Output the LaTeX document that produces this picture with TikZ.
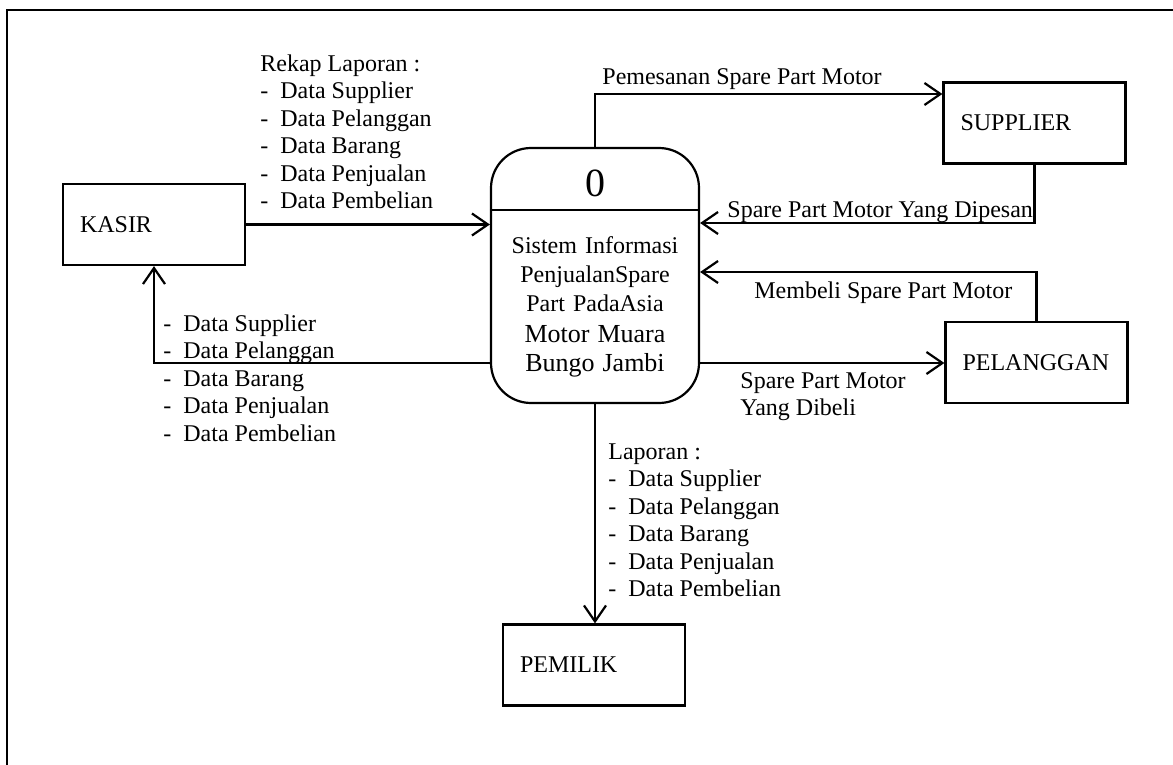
\documentclass[tikz,border=0pt]{standalone}
\usepackage{fontspec}
\setmainfont{Liberation Serif}
\usetikzlibrary{arrows.meta}
\usetikzlibrary{positioning}
\tikzset{entity/.style = {draw, line width=1.1pt, minimum height=40.5pt, text width=74pt, inner xsep=8.5pt, align=left, font=\fontsize{12}{14}\selectfont}}
\tikzset{proses/.style = {draw, line width=1.1pt, rounded corners=20pt, minimum width=104pt, minimum height=127.5pt}}
\tikzset{flow/.style = {line width=1.1pt, -{Straight Barb[length=8pt,width=11pt]}}}
\tikzset{lbl/.style = {anchor=north west, inner sep=0pt, align=left, font=\fontsize{12}{13.75}\selectfont}}
\newcommand{\itm}{\makebox[10pt][l]{-}}

\begin{document}
\begin{tikzpicture}[x=0.5pt, y=-0.5pt]
        \useasboundingbox (0,0) rectangle (1173,765);
        \draw[line width=1.2pt] (7,765) -- (7,10) -- (1173,10);
        % entitas
        \node[entity] (kasir) at (154,224.5) {KASIR};
        \node[entity] (supplier) at (1034.5,123) {SUPPLIER};
        \node[entity] (pelanggan) at (1036.5,362.5) {PELANGGAN};
        \node[entity] (pemilik) at (594,665) {PEMILIK};
        % proses 0
        \node[proses] (proc) at (595,275.5) {};
        \coordinate (div) at (595,210);
        \draw[line width=1.1pt] (proc.west |- div) -- (proc.east |- div);
        \node[font=\fontsize{20}{24}\selectfont] (num) at (595,183) {0};
        \node[align=center, text width=100pt, inner sep=0pt, font=\fontsize{12}{14.5}\selectfont] (ptext) at (595,306.5)
            {Sistem Informasi\\ PenjualanSpare\\ Part PadaAsia\\[0.5pt] \fontsize{13}{15}\selectfont Motor Muara\\ Bungo Jambi};
        % aliran data
        \draw[flow] (kasir.east) -- (kasir.east -| proc.west);
        \draw[flow] ([yshift=-43.75pt]proc.west) -| (kasir.south);
        \draw[flow] (proc.north) |- ([yshift=14.5pt]supplier.west);
        \draw[flow] (supplier.south) |- ([yshift=26.25pt]proc.east);
        \draw[flow] (pelanggan.north) |- ([yshift=1.75pt]proc.east);
        \draw[flow] ([yshift=-43.75pt]proc.east) -- ([yshift=-43.75pt]proc.east -| pelanggan.west);
        \draw[flow] (proc.south) -- (proc.south |- pemilik.north);
        % label
        \node[lbl] (rekap) at (260,54) {Rekap Laporan :\\ \itm Data Supplier\\ \itm Data Pelanggan\\ \itm Data Barang\\ \itm Data Penjualan\\ \itm Data Pembelian};
        \node[lbl] (balik) at (163,314) {\itm Data Supplier\\ \itm Data Pelanggan\\ \itm Data Barang\\ \itm Data Penjualan\\ \itm Data Pembelian};
        \node[lbl] (laporan) at (608,443) {Laporan :\\ \itm Data Supplier\\ \itm Data Pelanggan\\ \itm Data Barang\\ \itm Data Penjualan\\ \itm Data Pembelian};
        \node[lbl] (pesan) at (602,68) {Pemesanan Spare Part Motor};
        \node[lbl] (dipesan) at (727,201) {Spare Part Motor Yang Dipesan};
        \node[lbl] (beli) at (754,281) {Membeli Spare Part Motor};
        \node[lbl] (dibeli) at (740,372) {Spare Part Motor\\ Yang Dibeli};
\end{tikzpicture}
\end{document}
